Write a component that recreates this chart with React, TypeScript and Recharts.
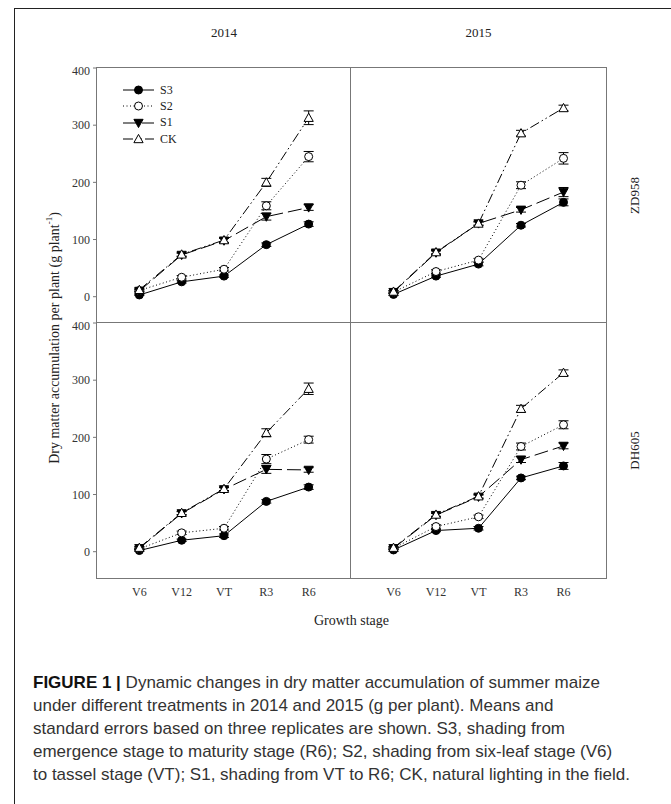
import { ErrorBar, Legend, Line, LineChart, XAxis, YAxis } from "recharts";

const stages = ["V6", "V12", "VT", "R3", "R6"];
const stagePos = [1, 2, 3, 4, 5];
const yTicks = [0, 100, 200, 300, 400];
const treatments = ["S3", "S2", "S1", "CK"];
const years = ["2014", "2015"];
const cultivars = ["ZD958", "DH605"];

// ZD958, 2014
const zd14S3 = [3, 26, 36, 91, 127];
const zd14S2 = [11, 34, 48, 159, 245];
const zd14S1 = [10, 73, 98, 140, 156];
const zd14CK = [12, 74, 99, 200, 313];
const zd14S3e = [1, 2, 2, 3, 4];
const zd14S2e = [2, 3, 3, 7, 9];
const zd14S1e = [2, 3, 4, 6, 5];
const zd14CKe = [2, 3, 4, 7, 12];

// ZD958, 2015
const zd15S3 = [4, 36, 57, 125, 165];
const zd15S2 = [8, 44, 64, 195, 242];
const zd15S1 = [8, 77, 128, 152, 183];
const zd15CK = [9, 78, 128, 286, 330];
const zd15S3e = [2, 2, 3, 3, 6];
const zd15S2e = [2, 3, 3, 6, 10];
const zd15S1e = [2, 3, 3, 4, 8];
const zd15CKe = [2, 3, 3, 5, 5];

// DH605, 2014
const dh14S3 = [2, 20, 28, 88, 113];
const dh14S2 = [5, 33, 41, 162, 196];
const dh14S1 = [6, 67, 109, 144, 143];
const dh14CK = [7, 68, 110, 208, 285];
const dh14S3e = [1, 2, 3, 3, 4];
const dh14S2e = [1, 3, 3, 8, 6];
const dh14S1e = [2, 3, 3, 7, 4];
const dh14CKe = [2, 3, 3, 7, 10];

// DH605, 2015
const dh15S3 = [3, 37, 41, 129, 150];
const dh15S2 = [6, 44, 61, 184, 222];
const dh15S1 = [6, 64, 96, 161, 185];
const dh15CK = [7, 65, 97, 250, 313];
const dh15S3e = [2, 2, 3, 3, 6];
const dh15S2e = [2, 3, 3, 6, 7];
const dh15S1e = [2, 3, 3, 5, 5];
const dh15CKe = [2, 3, 3, 6, 5];

const captionLines = [
  "Dynamic changes in dry matter accumulation of summer maize",
  "under different treatments in 2014 and 2015 (g per plant). Means and",
  "standard errors based on three replicates are shown. S3, shading from",
  "emergence stage to maturity stage (R6); S2, shading from six-leaf stage (V6)",
  "to tassel stage (VT); S1, shading from VT to R6; CK, natural lighting in the field.",
];

function buildRows(vals: number[][], errs: number[][]) {
  return stagePos.map((x, i) => {
    const row: Record<string, number> = { x };
    treatments.forEach((t, k) => {
      row[t] = vals[k][i];
      row[t + "e"] = errs[k][i];
    });
    return row;
  });
}

const panels = [
  { top: true, left: true, rows: buildRows([zd14S3, zd14S2, zd14S1, zd14CK], [zd14S3e, zd14S2e, zd14S1e, zd14CKe]) },
  { top: true, left: false, rows: buildRows([zd15S3, zd15S2, zd15S1, zd15CK], [zd15S3e, zd15S2e, zd15S1e, zd15CKe]) },
  { top: false, left: true, rows: buildRows([dh14S3, dh14S2, dh14S1, dh14CK], [dh14S3e, dh14S2e, dh14S1e, dh14CKe]) },
  { top: false, left: false, rows: buildRows([dh15S3, dh15S2, dh15S1, dh15CK], [dh15S3e, dh15S2e, dh15S1e, dh15CKe]) },
];

const styles: Record<string, { dash?: string; kind: string; fill: string }> = {
  S3: { kind: "circle", fill: "#000" },
  S2: { dash: "1 2.5", kind: "circle", fill: "#fff" },
  S1: { dash: "14 5", kind: "down", fill: "#000" },
  CK: { dash: "10 3 1.5 3 1.5 3", kind: "up", fill: "#fff" },
};

// plot frame (page px)
const PL = 97;
const PM = 351;
const PR = 606;
const PT = 68;
const PMY = 323;
const PB = 578;

const serif = "'Liberation Serif', 'Times New Roman', serif";

function Marker({ cx, cy, kind, fill }: any) {
  if (cx == null || cy == null) return null;
  if (kind === "circle") {
    return <circle cx={cx} cy={cy} r={4} fill={fill} stroke="#000" strokeWidth={1} />;
  }
  const s = 4.6;
  const pts =
    kind === "down"
      ? `${cx - s},${cy - s * 0.8} ${cx + s},${cy - s * 0.8} ${cx},${cy + s}`
      : `${cx - s},${cy + s * 0.8} ${cx + s},${cy + s * 0.8} ${cx},${cy - s}`;
  return <polygon points={pts} fill={fill} stroke="#000" strokeWidth={1} />;
}

function LegendBox() {
  return (
    <div style={{ fontFamily: serif, fontSize: 12, color: "#222" }}>
      {treatments.map((t) => (
        <div key={t} style={{ display: "flex", alignItems: "center", height: 16.3 }}>
          <svg width={31} height={12}>
            <line x1={0} x2={31} y1={6} y2={6} stroke="#000" strokeWidth={1} strokeDasharray={styles[t].dash} />
            <Marker cx={15.5} cy={6} kind={styles[t].kind} fill={styles[t].fill} />
          </svg>
          <span style={{ marginLeft: 6 }}>{t}</span>
        </div>
      ))}
    </div>
  );
}

function Panel({ rows, top, left }: any) {
  const chartLeft = left ? PL - 45 : PM - 45;
  const chartTop = top ? PT - 5 : PMY - 5;
  const width = (left ? PM - PL : PR - PM) + 55;
  const height = (top ? PMY - PT : PB - PMY) + 35;
  return (
    <div style={{ position: "absolute", left: chartLeft, top: chartTop }}>
      <LineChart
        width={width}
        height={height}
        data={rows}
        margin={{ top: 5, right: 10, bottom: top ? 30 : 0, left: left ? 0 : 45 }}
      >
        {top ? (
          <XAxis
            type="number"
            dataKey="x"
            domain={[0, 6]}
            ticks={stagePos}
            mirror
            tick={false}
            tickSize={4}
            axisLine={false}
            tickLine={{ stroke: "#777" }}
          />
        ) : (
          <XAxis
            type="number"
            dataKey="x"
            domain={[0, 6]}
            ticks={stagePos}
            height={30}
            tickFormatter={(v: number) => stages[v - 1]}
            tick={{ fontSize: 12, fill: "#333", fontFamily: serif }}
            tickSize={0}
            tickMargin={9}
            axisLine={false}
            tickLine={false}
          />
        )}
        {left ? (
          <YAxis
            domain={[-46, 400]}
            ticks={yTicks}
            width={45}
            tick={{ fontSize: 12, fill: "#333", fontFamily: serif }}
            tickSize={4}
            tickMargin={3}
            axisLine={false}
            tickLine={{ stroke: "#777" }}
          />
        ) : (
          <YAxis
            domain={[-46, 400]}
            ticks={yTicks}
            mirror
            tick={false}
            tickSize={4}
            axisLine={false}
            tickLine={{ stroke: "#777" }}
          />
        )}
        {top && left && (
          <Legend
            layout="vertical"
            align="center"
            verticalAlign="middle"
            content={() => <LegendBox />}
            wrapperStyle={{ left: 123 - chartLeft, top: 82 - chartTop, width: 60 }}
          />
        )}
        {treatments.map((t) => (
          <Line
            key={t}
            dataKey={t}
            type="linear"
            stroke="#000"
            strokeWidth={1}
            strokeDasharray={styles[t].dash}
            isAnimationActive={false}
            legendType="none"
            dot={(p: any) => (
              <Marker key={p.index} cx={p.cx} cy={p.cy} kind={styles[t].kind} fill={styles[t].fill} />
            )}
            activeDot={false}
          >
            <ErrorBar dataKey={t + "e"} width={5} stroke="#000" strokeWidth={1} direction="y" />
          </Line>
        ))}
      </LineChart>
    </div>
  );
}

export default function App() {
  return (
    <div style={{ position: "absolute", left: 0, top: 0, width: 671, height: 804, background: "#fff", overflow: "hidden" }}>
      <div style={{ position: "absolute", left: 14, top: 8, width: 700, height: 820, borderLeft: "1px solid #222", borderTop: "1px solid #222" }} />

      {panels.map((p, i) => (
        <Panel key={i} {...p} />
      ))}

      {/* panel frames */}
      <div style={{ position: "absolute", left: PL - 1, top: PT - 1, width: PR - PL, height: PB - PT, border: "1px solid #777", pointerEvents: "none" }} />
      <div style={{ position: "absolute", left: PM - 1, top: PT, width: 1, height: PB - PT, background: "#777" }} />
      <div style={{ position: "absolute", left: PL, top: PMY - 1, width: PR - PL, height: 1, background: "#777" }} />

      <svg width={671} height={804} style={{ position: "absolute", left: 0, top: 0, pointerEvents: "none" }}>
        <g fontFamily={serif} fill="#222">
          {years.map((y, i) => (
            <text key={y} x={i === 0 ? (PL + PM) / 2 : (PM + PR) / 2} y={32} fontSize={13} textAnchor="middle" dominantBaseline="central">
              {y}
            </text>
          ))}
          {cultivars.map((c, i) => (
            <text
              key={c}
              transform={`translate(634,${i === 0 ? (PT + PMY) / 2 : (PMY + PB) / 2}) rotate(-90)`}
              fontSize={13}
              textAnchor="middle"
              dominantBaseline="central"
            >
              {c}
            </text>
          ))}
          <text transform="translate(54,338) rotate(-90)" fontSize={14} textAnchor="middle" dominantBaseline="central">
            Dry matter accumulation per plant (g plant
            <tspan dy={-5} fontSize={9}>-1</tspan>
            <tspan dy={5}>)</tspan>
          </text>
          <text x={(PL + PR) / 2} y={620} fontSize={14} textAnchor="middle" dominantBaseline="central">
            Growth stage
          </text>
        </g>
      </svg>

      <div
        style={{
          position: "absolute",
          left: 33,
          top: 671,
          fontFamily: "'Liberation Sans', Arial, sans-serif",
          fontSize: 17,
          lineHeight: "23px",
          color: "#333",
          whiteSpace: "nowrap",
        }}
      >
        {captionLines.map((line, i) => (
          <div key={i}>
            {i === 0 && <b style={{ color: "#111" }}>FIGURE 1 | </b>}
            {line}
          </div>
        ))}
      </div>
    </div>
  );
}
